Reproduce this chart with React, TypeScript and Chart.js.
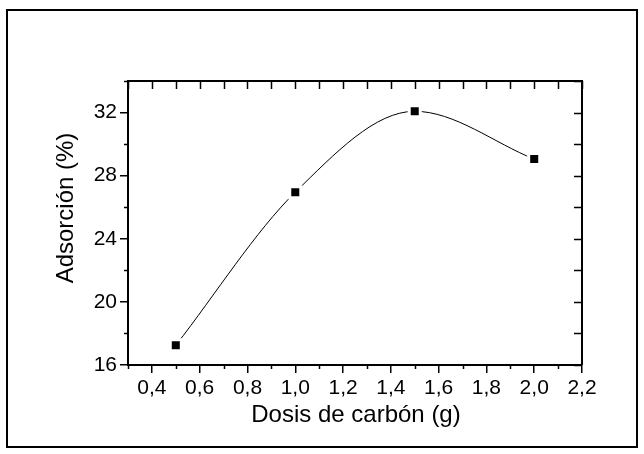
import React, { useEffect, useRef } from "react";
import { Chart, registerables } from "chart.js";

Chart.register(...registerables);

// ---- data ----
const dosis: number[] = [0.5, 1.0, 1.5, 2.0];
const adsorcion: number[] = [17.25, 26.95, 32.08, 29.05];

const xMin = 0.3;
const xMax = 2.2;
const xMinorStep = 0.1;
const yMin = 16;
const yMax = 34;
const yMinorStep = 2;

const xTitle = "Dosis de carbón (g)";
const yTitle = "Adsorción (%)";

const FONT = "'Liberation Sans', Arial, Helvetica, sans-serif";

const isMajorX = (v: number) => Math.round(v * 10) % 2 === 0;
const isMajorY = (v: number) => Math.round(v) % 4 === 0;
const fmtX = (v: number) => v.toFixed(1).replace(".", ",");

const framePlugin = {
  id: "originFrame",
  afterDraw(chart: any) {
    const { ctx, chartArea } = chart;
    const xs = chart.scales.x;
    const ys = chart.scales.y;
    const { left, right, top, bottom } = chartArea;
    ctx.save();
    ctx.strokeStyle = "#000";
    ctx.lineWidth = 2;
    ctx.beginPath();
    ctx.moveTo(left, top);
    ctx.lineTo(right, top);
    ctx.lineTo(right, bottom);
    ctx.stroke();
    ctx.lineWidth = 1.5;
    ctx.beginPath();
    for (let v = xMin; v <= xMax + 1e-9; v += xMinorStep) {
      const px = Math.round(xs.getPixelForValue(v)) + 0.5;
      if (!isMajorX(v)) {
        ctx.moveTo(px, bottom);
        ctx.lineTo(px, bottom + 4);
      }
      ctx.moveTo(px, top);
      ctx.lineTo(px, top + 8);
    }
    for (let v = yMin; v <= yMax + 1e-9; v += yMinorStep) {
      const py = Math.round(ys.getPixelForValue(v)) + 0.5;
      if (!isMajorY(v)) {
        ctx.moveTo(left, py);
        ctx.lineTo(left - 4, py);
      }
      ctx.moveTo(right, py);
      ctx.lineTo(right - 8, py);
    }
    ctx.stroke();

    ctx.fillStyle = "#000";
    ctx.font = `24px ${FONT}`;
    ctx.textAlign = "center";
    ctx.textBaseline = "alphabetic";
    ctx.fillText(xTitle, (left + right) / 2 + 1, bottom + 57);
    ctx.translate(left - 55, (top + bottom) / 2 - 15);
    ctx.rotate(-Math.PI / 2);
    ctx.fillText(yTitle, 0, 0);
    ctx.restore();
  },
};

export default function App() {
  const canvasRef = useRef<HTMLCanvasElement | null>(null);

  useEffect(() => {
    document.body.style.margin = "0";
    const canvas = canvasRef.current;
    if (!canvas) return;
    const chart = new Chart(canvas, {
      type: "line",
      data: {
        datasets: [
          {
            data: dosis.map((d, i) => ({ x: d, y: adsorcion[i] })),
            borderColor: "#000",
            borderWidth: 1,
            cubicInterpolationMode: "monotone",
            pointStyle: "rect",
            pointRadius: 7.8,
            pointHoverRadius: 7.8,
            pointBackgroundColor: "#000",
            pointBorderColor: "#fff",
            pointBorderWidth: 3,
            fill: false,
          },
        ],
      },
      options: {
        animation: false,
        responsive: true,
        maintainAspectRatio: false,
        events: [],
        layout: { padding: { left: 0, top: 81, right: 62, bottom: 0 } },
        plugins: {
          legend: { display: false },
          tooltip: { enabled: false },
        },
        scales: {
          x: {
            type: "linear",
            min: xMin,
            max: xMax,
            afterFit: (s: any) => {
              s.height = 89;
            },
            ticks: {
              stepSize: xMinorStep,
              autoSkip: false,
              maxRotation: 0,
              padding: 3,
              color: "#000",
              font: { family: FONT, size: 21 },
              callback: (v: any) => (isMajorX(Number(v)) ? fmtX(Number(v)) : ""),
            },
            grid: {
              display: true,
              drawOnChartArea: false,
              drawTicks: true,
              tickLength: 8,
              lineWidth: 1.5,
              color: (c: any) => (c.tick && isMajorX(c.tick.value) ? "#000" : "rgba(0,0,0,0)"),
            },
            border: { display: true, color: "#000", width: 2 },
          },
          y: {
            type: "linear",
            min: yMin,
            max: yMax,
            afterFit: (s: any) => {
              s.width = 128;
            },
            ticks: {
              stepSize: yMinorStep,
              autoSkip: false,
              padding: 3,
              color: "#000",
              font: { family: FONT, size: 21 },
              callback: (v: any) => (isMajorY(Number(v)) ? String(v) : ""),
            },
            grid: {
              display: true,
              drawOnChartArea: false,
              drawTicks: true,
              tickLength: 8,
              lineWidth: 1.5,
              color: (c: any) => (c.tick && isMajorY(c.tick.value) ? "#000" : "rgba(0,0,0,0)"),
            },
            border: { display: true, color: "#000", width: 2 },
          },
        },
      },
      plugins: [framePlugin],
    });
    return () => chart.destroy();
  }, []);

  return (
    <div style={{ position: "absolute", left: 0, top: 0, width: 644, height: 454, background: "#fff" }}>
      <canvas ref={canvasRef} />
      <div
        style={{
          position: "absolute",
          left: 6,
          top: 9,
          width: 632,
          height: 439,
          border: "2px solid #000",
          boxSizing: "border-box",
          pointerEvents: "none",
        }}
      />
    </div>
  );
}
